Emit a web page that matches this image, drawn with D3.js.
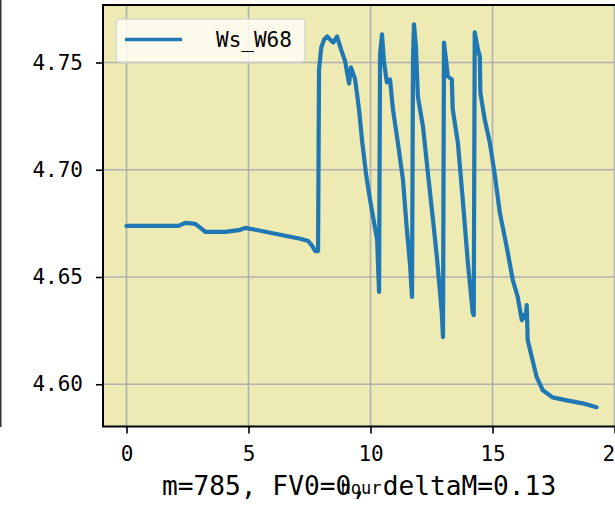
<!DOCTYPE html>
<html>
<head>
<meta charset="utf-8">
<script src="https://cdn.jsdelivr.net/npm/d3@7"></script>
<style>
  body { margin: 0; background: #fff; }
  text { font-family: "DejaVu Sans Mono", "Liberation Mono", monospace; fill: #000; }
</style>
</head>
<body>
<div id="graph"></div>
<script>
// hours since start
const hours = [0, 0.98, 2.13, 2.41, 2.82, 3.03, 3.23, 4.05, 4.66, 4.87, 5.28, 5.89, 6.50, 7.12, 7.44, 7.61, 7.73, 7.85,
  7.89, 7.98, 8.10, 8.22, 8.34, 8.47, 8.63, 8.79, 8.96, 9.12, 9.20, 9.37, 9.53, 9.65, 9.82, 9.98, 10.14, 10.27, 10.35,
  10.39, 10.47, 10.55, 10.67, 10.80, 10.92, 11.12, 11.33, 11.49, 11.62, 11.70,
  11.74, 11.78, 11.86, 11.94, 12.15, 12.35, 12.56, 12.72, 12.92, 12.97,
  13.01, 13.09, 13.17, 13.33, 13.37, 13.58, 13.78, 13.99, 14.19, 14.23,
  14.27, 14.40, 14.48, 14.50, 14.68, 14.89, 15.09, 15.30, 15.58, 15.83, 16.03, 16.20, 16.28, 16.36, 16.40, 16.44,
  16.61, 16.81, 17.06, 17.46, 18.04, 18.69, 19.26];

const ws = [4.6738, 4.6738, 4.6738, 4.6752, 4.6748, 4.6729, 4.6710, 4.6710, 4.6720, 4.6729, 4.6720, 4.6706, 4.6692, 4.6678, 4.6668, 4.6645, 4.6621, 4.6621,
  4.7467, 4.7570, 4.7607, 4.7621, 4.7607, 4.7593, 4.7621, 4.7561, 4.7505, 4.7402, 4.7477, 4.7421, 4.7280, 4.7140, 4.6977, 4.6860, 4.6757, 4.6673, 4.6430,
  4.7537, 4.7631, 4.7505, 4.7407, 4.7421, 4.7280, 4.7126, 4.6953, 4.6720, 4.6556, 4.6407,
  4.7514, 4.7678, 4.7575, 4.7341, 4.7201, 4.6986, 4.6766, 4.6593, 4.6332, 4.6220,
  4.7593, 4.7514, 4.7435, 4.7421, 4.7280, 4.7126, 4.6860, 4.6565, 4.6332, 4.6322,
  4.7640, 4.7561, 4.7528, 4.7360, 4.7234, 4.7126, 4.6977, 4.6799, 4.6640, 4.6486, 4.6407, 4.6299, 4.6322, 4.6308, 4.6369, 4.6206,
  4.6126, 4.6033, 4.5972, 4.5939, 4.5925, 4.5911, 4.5893];

const xTicks = [0, 5, 10, 15, 20];
const yTicks = [4.60, 4.65, 4.70, 4.75];
const seriesName = "Ws_W68";
const caption = "m=785, FV0=0, deltaM=0.13";

const w = 615;
const h = 508;
const plotLeft = 103, plotRight = 620, plotTop = 5, plotBottom = 426.5;

const data = hours.map((t, i) => ({ t: t, v: ws[i] }));

const xScale = d3.scaleLinear().domain([-0.963, 20.223]).range([plotLeft, plotRight]);
const yScale = d3.scaleLinear().domain([4.5803, 4.7768]).range([plotBottom, plotTop]);

const svg = d3.select("#graph")
              .append("svg")
              .attr("width", w)
              .attr("height", h);

// neighbour subplot edge on the far left
svg.append("line")
   .attr("x1", 0.75).attr("x2", 0.75)
   .attr("y1", 0).attr("y2", 427)
   .attr("stroke", "#333")
   .attr("stroke-width", 1.5);

svg.append("rect")
   .attr("x", plotLeft).attr("y", plotTop)
   .attr("width", plotRight - plotLeft).attr("height", plotBottom - plotTop)
   .attr("fill", "#eeeab3");

// grid
svg.append("g")
   .selectAll("line")
   .data(xTicks)
   .enter()
   .append("line")
   .attr("x1", (d) => xScale(d)).attr("x2", (d) => xScale(d))
   .attr("y1", plotTop).attr("y2", plotBottom)
   .attr("stroke", "#b0b0b0")
   .attr("stroke-width", 1.6);

svg.append("g")
   .selectAll("line")
   .data(yTicks)
   .enter()
   .append("line")
   .attr("x1", plotLeft).attr("x2", plotRight)
   .attr("y1", (d) => yScale(d)).attr("y2", (d) => yScale(d))
   .attr("stroke", "#b0b0b0")
   .attr("stroke-width", 1.6);

const line = d3.line()
               .x((d) => xScale(d.t))
               .y((d) => yScale(d.v));

svg.append("path")
   .datum(data)
   .attr("d", line)
   .attr("fill", "none")
   .attr("stroke", "#1f77b4")
   .attr("stroke-width", 4.2)
   .attr("stroke-linejoin", "round")
   .attr("stroke-linecap", "round");

svg.append("rect")
   .attr("x", plotLeft).attr("y", plotTop)
   .attr("width", plotRight - plotLeft).attr("height", plotBottom - plotTop)
   .attr("fill", "none")
   .attr("stroke", "#000")
   .attr("stroke-width", 2);

const xAxis = d3.axisBottom(xScale).tickValues(xTicks).tickSize(7).tickPadding(13).tickFormat(d3.format("d"));
const yAxis = d3.axisLeft(yScale).tickValues(yTicks).tickSize(7).tickPadding(13).tickFormat(d3.format(".2f"));

const gx = svg.append("g")
              .attr("transform", "translate(0," + plotBottom + ")")
              .call(xAxis);
const gy = svg.append("g")
              .attr("transform", "translate(" + plotLeft + ",0)")
              .call(yAxis);

[gx, gy].forEach((g) => {
  g.select(".domain").remove();
  g.selectAll(".tick line").attr("stroke", "#000").attr("stroke-width", 1.6);
  g.selectAll(".tick text")
   .style("font-family", "'DejaVu Sans Mono', monospace")
   .style("font-size", "21px");
});

// legend
svg.append("rect")
   .attr("x", 116).attr("y", 19)
   .attr("width", 189).attr("height", 43)
   .attr("rx", 4)
   .attr("fill", "#fdfdf4")
   .attr("fill-opacity", 0.85)
   .attr("stroke", "#d6d6d0")
   .attr("stroke-width", 1.5);

svg.append("line")
   .attr("x1", 125).attr("x2", 182)
   .attr("y1", 39.5).attr("y2", 39.5)
   .attr("stroke", "#1f77b4")
   .attr("stroke-width", 3.6);

svg.append("text")
   .attr("x", 216).attr("y", 47)
   .style("font-size", "21px")
   .text(seriesName);

svg.append("text")
   .attr("x", 162).attr("y", 495)
   .style("font-size", "26.2px")
   .text(caption);

svg.append("text")
   .attr("x", 361).attr("y", 494)
   .attr("text-anchor", "middle")
   .style("font-size", "17px")
   .text("hour");
</script>
</body>
</html>
